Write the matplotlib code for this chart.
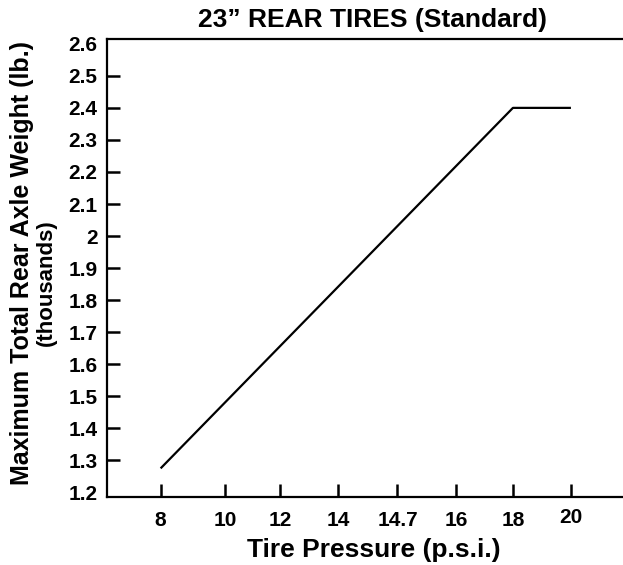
import matplotlib

matplotlib.use("Agg")
import matplotlib.pyplot as plt  # noqa: E402
import matplotlib.transforms as mtransforms  # noqa: E402

# tire pressure categories (psi) and where each sits on the axis
pressures = ["8", "10", "12", "14", "14.7", "16", "18", "20"]
pressure_pos = [0.0, 1.114, 2.064, 3.066, 4.093, 5.104, 6.088, 7.09]

# load curve: max rear axle weight (thousands of lb.) at given pressures
curve_pressure = ["8", "18", "20"]
curve_weight = [1.275, 2.4, 2.4]

weight_ticks = [1.2, 1.3, 1.4, 1.5, 1.6, 1.7, 1.8, 1.9, 2.0, 2.1, 2.2, 2.3, 2.4, 2.5, 2.6]
weight_labels = ["1.2", "1.3", "1.4", "1.5", "1.6", "1.7", "1.8", "1.9", "2",
                 "2.1", "2.2", "2.3", "2.4", "2.5", "2.6"]

plt.rcParams["font.family"] = ["Liberation Sans", "DejaVu Sans"]
plt.rcParams["font.weight"] = "bold"

fig = plt.figure(figsize=(6.23, 5.65), dpi=100)
ax = fig.add_axes([0.172, 0.120, 0.828, 0.811])

pos = dict(zip(pressures, pressure_pos))
ax.plot([pos[p] for p in curve_pressure], curve_weight, color="black", lw=1.6,
        solid_capstyle="butt")

ax.set_xlim(-0.924, 7.99)
ax.set_ylim(1.185, 2.615)
ax.set_xticks(pressure_pos)
ax.set_xticklabels(pressures)
ax.set_yticks(weight_ticks)
ax.set_yticklabels(weight_labels)

ax.spines["right"].set_visible(False)
for s in ("left", "top", "bottom"):
    ax.spines[s].set_linewidth(1.6)

ax.tick_params(axis="both", direction="in", length=9.5, width=1.8, labelsize=15)
ax.tick_params(axis="x", pad=10)
ax.tick_params(axis="y", pad=7)
yt = ax.yaxis.get_major_ticks()
yt[0].tick1line.set_visible(False)
yt[-1].tick1line.set_visible(False)
for lab in ax.get_xticklabels() + ax.get_yticklabels():
    lab.set_fontweight("bold")
# the "20" label sits a touch higher in the original
last = ax.get_xticklabels()[-1]
last.set_transform(last.get_transform() +
                   mtransforms.ScaledTranslation(0, 2 / 72, fig.dpi_scale_trans))

fig.text(0.598, 0.965, "23\u201d REAR TIRES (Standard)", ha="center", va="center",
         fontsize=19, fontweight="bold")
fig.text(0.600, 0.027, "Tire Pressure (p.s.i.)", ha="center", va="center",
         fontsize=19, fontweight="bold")
fig.text(0.036, 0.535, "Maximum Total Rear Axle Weight (lb.)", rotation=90,
         ha="center", va="center", fontsize=18, fontweight="bold")
fig.text(0.075, 0.499, "(thousands)", rotation=90, ha="center", va="center",
         fontsize=16, fontweight="bold")

fig.savefig("out.png", dpi=100)
plt.close(fig)
